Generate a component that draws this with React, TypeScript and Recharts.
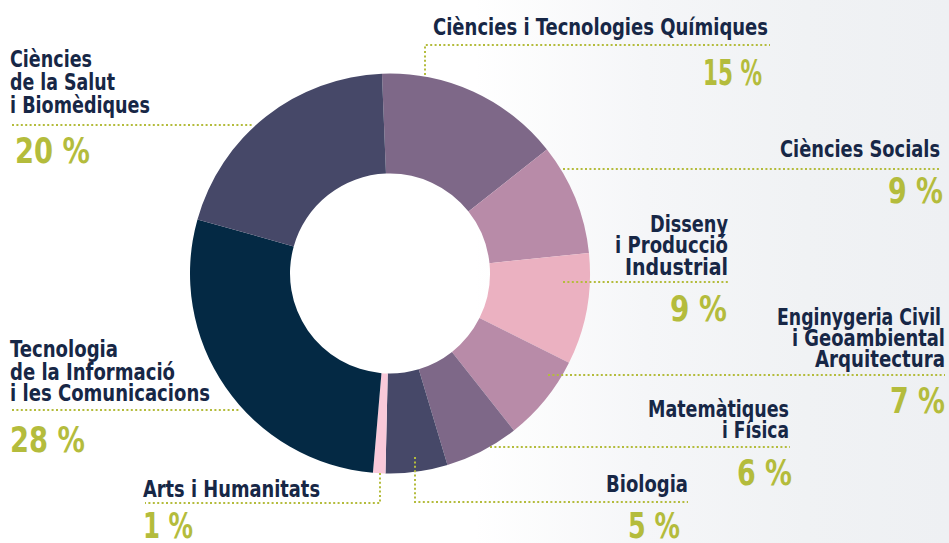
import React from 'react';
import { PieChart, Pie, Cell } from 'recharts';

const categories = [
  'Ciències i Tecnologies Químiques',
  'Ciències Socials',
  'Disseny i Producció Industrial',
  'Enginygeria Civil i Geoambiental Arquitectura',
  'Matemàtiques i Física',
  'Biologia',
  'Arts i Humanitats',
  'Tecnologia de la Informació i les Comunicacions',
  'Ciències de la Salut i Biomèdiques',
];
const shares = [15, 9, 9, 7, 6, 5, 1, 28, 20];
const labelLines = [
  ['Ciències i Tecnologies Químiques'],
  ['Ciències Socials'],
  ['Disseny', 'i Producció', 'Industrial'],
  ['Enginygeria Civil', 'i Geoambiental', 'Arquitectura'],
  ['Matemàtiques', 'i Física'],
  ['Biologia'],
  ['Arts i Humanitats'],
  ['Tecnologia', 'de la Informació', 'i les Comunicacions'],
  ['Ciències', 'de la Salut', 'i Biomèdiques'],
];
const sliceColors = ['#7e6888', '#b88ba8', '#ebb1c1', '#b88ba8', '#7e6888', '#464868', '#f9c9d9', '#042944', '#464868'];

// layout only (annotation positions): [x, baseline, width, anchor]
const layout: { lines: [number, number, number, 'start' | 'end'][]; rule: number[][]; pct: [number, number, number, 'start' | 'end'] }[] = [
  { lines: [[433, 35, 335, 'start']], rule: [[425, 75], [425, 45], [770, 45]], pct: [762, 85, 59, 'end'] },
  { lines: [[940, 157, 160, 'end']], rule: [[563, 169], [941, 169]], pct: [943, 203, 55, 'end'] },
  { lines: [[728, 232, 78, 'end'], [728, 253, 113, 'end'], [728, 275, 103, 'end']], rule: [[563, 282], [728, 282]], pct: [727, 321, 57, 'end'] },
  { lines: [[941, 325, 164, 'end'], [945, 346, 153, 'end'], [945, 367, 130, 'end']], rule: [[548, 375], [945, 375]], pct: [945, 413, 55, 'end'] },
  { lines: [[789, 417, 141, 'end'], [789, 438, 67, 'end']], rule: [[490, 447], [790, 447]], pct: [792, 485, 55, 'end'] },
  { lines: [[688, 492, 82, 'end']], rule: [[415, 457], [415, 502], [688, 502]], pct: [680, 538, 52, 'end'] },
  { lines: [[143, 497, 177, 'start']], rule: [[380, 473], [380, 503], [145, 503]], pct: [143, 538, 50, 'start'] },
  { lines: [[10, 357, 108, 'start'], [10, 380, 165, 'start'], [10, 401, 200, 'start']], rule: [[12, 410], [240, 410]], pct: [10, 452, 75, 'start'] },
  { lines: [[10, 67, 82, 'start'], [10, 90, 105, 'start'], [10, 113, 140, 'start']], rule: [[12, 125], [252, 125]], pct: [15, 163, 75, 'start'] },
];

const data = categories.map((name, i) => ({ name, value: shares[i] }));

const FONT = '"Liberation Sans Narrow", "DejaVu Sans Condensed", "Roboto", sans-serif';
const TEXT = '#172746';
const OLIVE = '#b4bc3c';

export default function App() {
  return (
    <div
      style={{
        position: 'absolute',
        left: 0,
        top: 0,
        width: 949,
        height: 543,
        overflow: 'hidden',
        background:
          'linear-gradient(90deg, #ffffff 0%, #ffffff 50%, #f5f6f8 68%, #f0f2f4 85%, #eef0f3 100%)',
      }}
    >
      <div style={{ position: 'absolute', left: 0, top: 0 }}>
        <PieChart width={949} height={543} margin={{ top: 0, right: 0, bottom: 0, left: 0 }}>
          <Pie
            data={data}
            dataKey="value"
            nameKey="name"
            cx={390}
            cy={273.5}
            innerRadius={100}
            outerRadius={200}
            startAngle={92.3}
            endAngle={-267.7}
            stroke="none"
            isAnimationActive={false}
          >
            {data.map((d, i) => (
              <Cell key={d.name} fill={sliceColors[i]} />
            ))}
          </Pie>
        </PieChart>
      </div>
      <svg
        width={949}
        height={543}
        style={{ position: 'absolute', left: 0, top: 0, pointerEvents: 'none' }}
      >
        {layout.map((l, i) => (
          <g key={i}>
            <polyline
              points={l.rule.map((p) => p.join(',')).join(' ')}
              fill="none"
              stroke={OLIVE}
              strokeWidth={2}
              strokeDasharray="2 2.4"
            />
            {l.lines.map((ln, j) => (
              <text
                key={j}
                x={ln[0]}
                y={ln[1]}
                textAnchor={ln[3]}
                textLength={ln[2]}
                lengthAdjust="spacingAndGlyphs"
                fill={TEXT}
                fontFamily={FONT}
                fontWeight={700}
                fontSize={23}
              >
                {labelLines[i][j]}
              </text>
            ))}
            <text
              x={l.pct[0]}
              y={l.pct[1]}
              textAnchor={l.pct[3]}
              textLength={l.pct[2]}
              lengthAdjust="spacingAndGlyphs"
              fill={OLIVE}
              fontFamily={FONT}
              fontWeight={700}
              fontSize={35}
            >
              {`${shares[i]} %`}
            </text>
          </g>
        ))}
      </svg>
    </div>
  );
}
